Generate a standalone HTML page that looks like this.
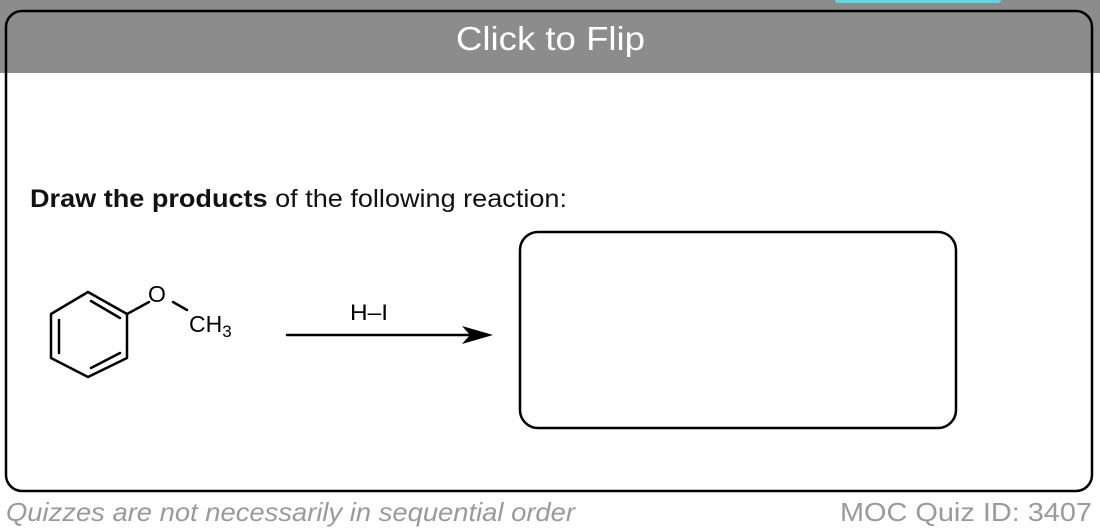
<!DOCTYPE html>
<html><head><style>
html,body{margin:0;padding:0;width:1100px;height:532px;overflow:hidden;background:#fff;font-family:"Liberation Sans",sans-serif}
</style></head><body>
<svg width="1100" height="532" xmlns="http://www.w3.org/2000/svg" style="position:absolute;left:0;top:0">
<rect x="6" y="11" width="1086" height="480" rx="16" fill="#fff" stroke="#000" stroke-width="2.5"/>
<rect x="0" y="0" width="1100" height="73" fill="#000" fill-opacity="0.45"/>
<rect x="835" y="-4" width="166" height="7" rx="3" fill="#5fd6e2"/>
<text x="456" y="50" textLength="189" lengthAdjust="spacingAndGlyphs" fill="#fff" font-size="33">Click to Flip</text>
<text x="30" y="207" font-size="25" fill="#111" textLength="537" lengthAdjust="spacingAndGlyphs"><tspan font-weight="bold">Draw the products</tspan> of the following reaction:</text>
<g stroke="#000" stroke-width="2.5" fill="none" stroke-linecap="round" stroke-linejoin="round">
<polygon points="88,292 127,314 127,358 88,377 51,358 51,314"/>
<line x1="59" y1="320" x2="59" y2="353"/>
<line x1="91" y1="301" x2="120" y2="318"/>
<line x1="91" y1="368" x2="120" y2="353"/>
<line x1="127" y1="314" x2="149" y2="302"/>
<line x1="173" y1="302" x2="187" y2="310"/>
<line x1="287" y1="335" x2="470" y2="335"/>
</g>
<polygon points="493,335 462,326 470,335 462,344" fill="#000"/>
<text x="148" y="302" font-size="23" fill="#000">O</text>
<text x="189" y="332" font-size="23" fill="#000">CH<tspan font-size="17" dy="5">3</tspan></text>
<text x="350" y="320" font-size="22" fill="#000" textLength="38" lengthAdjust="spacingAndGlyphs">H–I</text>
<rect x="520" y="232" width="436" height="196" rx="18" fill="none" stroke="#000" stroke-width="2.5"/>
<text x="6" y="521" font-size="26" font-style="italic" fill="#9a9a9a" textLength="569" lengthAdjust="spacingAndGlyphs">Quizzes are not necessarily in sequential order</text>
<text x="840" y="521" font-size="26" fill="#9a9a9a" textLength="252" lengthAdjust="spacingAndGlyphs">MOC Quiz ID: 3407</text>
</svg>
</body></html>
